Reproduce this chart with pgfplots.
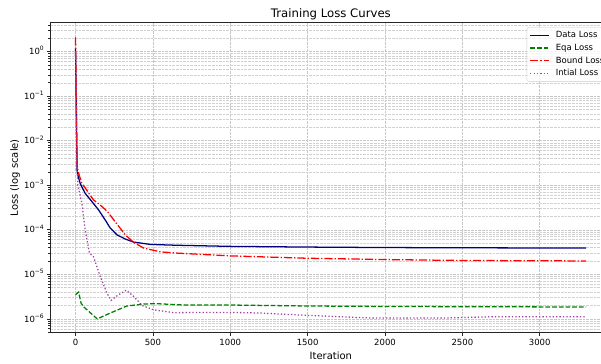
\documentclass[border=0pt]{standalone}
\usepackage{pgfplots}
\pgfplotsset{compat=1.18}
\usepackage{fontspec}
\setmainfont{DejaVu Sans}
\definecolor{cData}{RGB}{0,0,128}
\definecolor{cEqa}{RGB}{0,128,0}
\definecolor{cBound}{RGB}{255,0,0}
\definecolor{cInit}{RGB}{160,64,160}
\newcommand\tl[1]{10\raisebox{3.8bp}{\fontsize{6bp}{7bp}\selectfont #1}}
\pgfplotsset{myleg/.style={legend image code/.code={\draw[#1] (0bp,0bp) -- (19.3bp,0bp);}}}
\begin{document}
\begin{tikzpicture}
\begin{axis}[
  at={(50bp,31.3bp)}, anchor=south west,
  scale only axis, width=561.7bp, height=310bp,
  ymode=log, xmin=-165, xmax=3465, ymin=4.9e-7, ymax=4.47,
  xtick={0,500,1000,1500,2000,2500,3000},
  xticklabels={0,500,1000,1500,2000,2500,3000},
  ytick={1e-6,1e-5,1e-4,1e-3,1e-2,1e-1,1},
  yticklabels={\tl{−6},\tl{−5},\tl{−4},\tl{−3},\tl{−2},\tl{−1},\tl{0}},
  minor ytick={5e-7,6e-7,7e-7,8e-7,9e-7,
    2e-6,3e-6,4e-6,5e-6,6e-6,7e-6,8e-6,9e-6,
    2e-5,3e-5,4e-5,5e-5,6e-5,7e-5,8e-5,9e-5,
    2e-4,3e-4,4e-4,5e-4,6e-4,7e-4,8e-4,9e-4,
    2e-3,3e-3,4e-3,5e-3,6e-3,7e-3,8e-3,9e-3,
    2e-2,3e-2,4e-2,5e-2,6e-2,7e-2,8e-2,9e-2,
    2e-1,3e-1,4e-1,5e-1,6e-1,7e-1,8e-1,9e-1,
    2,3,4},
  tick align=outside, tick pos=left,
  major tick length=3bp, minor tick length=1.7bp,
  tick style={black!85, line width=0.68bp},
  axis line style={black!85, line width=0.75bp},
  xmajorgrids, ymajorgrids, yminorgrids,
  major grid style={black!22, line width=0.55bp, dash pattern=on 2.5bp off 1.1bp},
  minor grid style={black!18, line width=0.55bp, dash pattern=on 2.5bp off 1.1bp},
  tick label style={font=\fontsize{8.5bp}{10bp}\selectfont, inner sep=0pt, text height=6.2bp, text depth=0pt},
  xticklabel style={anchor=north, yshift=-3bp},
  yticklabel style={anchor=east, xshift=-3bp},
  label style={font=\fontsize{10bp}{12bp}\selectfont},
  xlabel={Iteration},
  ylabel={Loss (log scale)},
  xlabel style={at={(axis description cs:0.5,-0.0871)}, anchor=base},
  ylabel style={at={(axis description cs:-0.0623,0.5)}, anchor=center},
  title={Training Loss Curves},
  title style={font=\fontsize{11.7bp}{14bp}\selectfont, at={(axis description cs:0.5,1.01645)}, anchor=base, yshift=-6pt},
  legend cell align=left,
  myleg,
  legend style={at={(0.8487,0.9852)}, anchor=north west, draw=black!20, fill=white,
    fill opacity=0.8, text opacity=1, rounded corners=2bp,
    font=\fontsize{8.5bp}{10bp}\selectfont, inner xsep=2.6bp, inner ysep=3.4bp,
    nodes={inner sep=0.4bp, text height=6.2bp, text depth=1.7bp},
    row sep=4.1bp, column sep=5.3bp},
  every axis plot/.append style={line width=1.27bp, no marks},
]
\addplot[cData] coordinates {
(0,1.2) (10,2.2e-3) (15,1.7e-3) (30,1.1e-3) (62,6.6e-4) (106,4.3e-4) (149,2.8e-4)
(192,1.66e-4) (224,1.1e-4) (268,7.7e-5) (322,6.2e-5) (376,5.3e-5) (484,4.7e-5)
(656,4.5e-5) (1000,4.25e-5) (1500,4.1e-5) (2000,4.0e-5) (2500,3.95e-5) (3300,3.9e-5)};
\addlegendentry{Data Loss}
\addplot[cEqa, dash pattern=on 4.7bp off 2bp] coordinates {
(0,3.5e-6) (20,4.0e-6) (35,2.3e-6) (50,1.9e-6) (140,1.0e-6) (224,1.35e-6) (332,1.95e-6)
(440,2.15e-6) (520,2.2e-6) (700,2.05e-6) (1000,2.05e-6) (1500,1.95e-6) (2000,1.9e-6)
(3300,1.85e-6)};
\addlegendentry{Eqa Loss}
\addplot[cBound, dash pattern=on 8.2bp off 2bp on 1.3bp off 2bp] coordinates {
(0,2.1) (10,3e-3) (17,2.0e-3) (41,1.1e-3) (65,8.5e-4) (116,4.7e-4) (160,3.6e-4)
(205,2.6e-4) (240,1.8e-4) (275,1.25e-4) (322,7.7e-5) (376,5.2e-5) (440,3.9e-5)
(548,3.2e-5) (656,3.0e-5) (1000,2.6e-5) (1500,2.3e-5) (2000,2.15e-5) (2500,2.05e-5)
(3300,2.0e-5)};
\addlegendentry{Bound Loss}
\addplot[cInit, dash pattern=on 1.3bp off 2.1bp] coordinates {
(0,1.0) (8,3e-3) (15,1.0e-3) (41,4.0e-4) (62,1.0e-4) (90,3.0e-5) (116,2.5e-5)
(160,8.9e-6) (203,3.8e-6) (230,2.6e-6) (278,3.5e-6) (328,4.4e-6) (376,3.2e-6)
(430,2.0e-6) (505,1.6e-6) (635,1.38e-6) (1000,1.4e-6) (1200,1.35e-6) (1500,1.2e-6)
(1900,1.05e-6) (2400,1.05e-6) (2700,1.12e-6) (3300,1.12e-6)};
\addlegendentry{Intial Loss}
\end{axis}
\pgfresetboundingbox
\path[use as bounding box] (0,0) rectangle (601bp,364bp);
\end{tikzpicture}
\end{document}
